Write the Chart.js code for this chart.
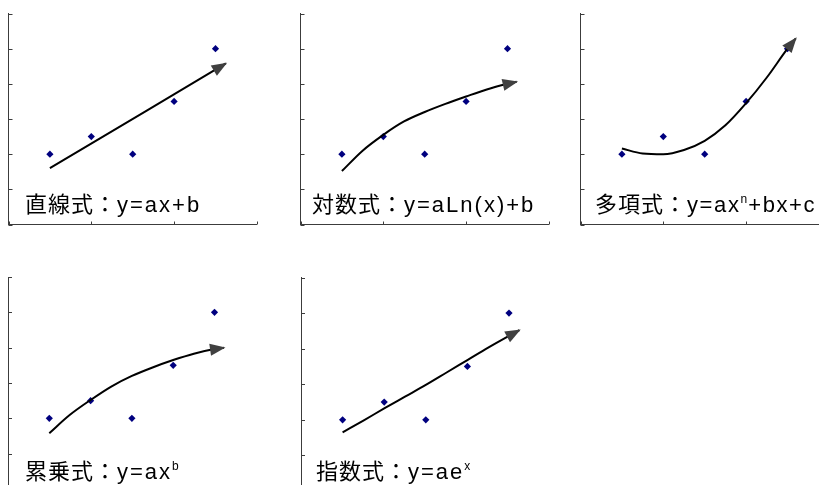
<!DOCTYPE html>
<html>
<head>
<meta charset="utf-8">
<script src="https://cdn.jsdelivr.net/npm/chart.js@4.4.1/dist/chart.umd.min.js"></script>
<style>
html,body{margin:0;padding:0;width:819px;height:485px;overflow:hidden;background:#fff;}
canvas{position:absolute;}
.lbl{position:absolute;font-family:"Liberation Sans",Arial,"Noto Sans CJK JP",sans-serif;font-size:22px;line-height:22px;color:#000;white-space:nowrap;letter-spacing:1px;}
.lbl .lat{letter-spacing:2px;}
.lbl .lat.tight{letter-spacing:1.6px;}
.lbl sup{font-size:12px;line-height:0;vertical-align:top;position:relative;top:5px;letter-spacing:1px;}
</style>
</head>
<body>
<div id="wrap"></div>
<script>
// ---- data ----
const xValues = [1, 2, 3, 4, 5];
const yValues = [2, 2.5, 2, 3.5, 5];
const xTickValues = [0, 2, 4, 6];
const yTickValues = [0, 1, 2, 3, 4, 5, 6];

const linearTrendX = [1, 5.25];
const linearTrendY = [1.6, 4.58];

const logTrendX = [1, 1.5, 2, 2.5, 3, 3.5, 4, 4.5, 5, 5.22];
const logTrendY = [1.52, 2.1, 2.55, 2.93, 3.2, 3.43, 3.64, 3.84, 4.0, 4.06];

const polyTrendX = [1, 1.5, 2, 2.5, 3, 3.5, 4, 4.5, 5, 5.2];
const polyTrendY = [2.16, 2.02, 2.0, 2.12, 2.38, 2.82, 3.45, 4.18, 5.0, 5.29];

const powerTrendX = [1, 1.5, 2, 2.5, 3, 3.5, 4, 4.5, 5, 5.23];
const powerTrendY = [1.58, 2.1, 2.52, 2.9, 3.2, 3.44, 3.65, 3.83, 3.96, 4.0];

const expTrendX = [1, 1.5, 2, 2.5, 3, 3.5, 4, 4.5, 5, 5.25];
const expTrendY = [1.65, 1.98, 2.32, 2.65, 2.98, 3.33, 3.68, 4.03, 4.36, 4.52];

const labelCJK = ["直線式：", "対数式：", "多項式：", "累乗式：", "指数式："];
const labelLatin = ["y=ax+b", "y=aLn(x)+b", "y=ax<sup>n</sup>+bx+c", "y=ax<sup>b</sup>", "y=ae<sup>x</sup>"];

// ---- layout (plot-area boxes in page pixels) ----
const panels = [
  {area:{l:8.5, t:13.5, w:248.4, h:211}, trendX:linearTrendX, trendY:linearTrendY, lx:25, ly:194, tight:false},
  {area:{l:300.5, t:13.5, w:248.4, h:211}, trendX:logTrendX, trendY:logTrendY, lx:312, ly:194, tight:false},
  {area:{l:580.5, t:13.5, w:248.4, h:211}, trendX:polyTrendX, trendY:polyTrendY, lx:595, ly:194, tight:true},
  {area:{l:8, t:277, w:247.8, h:212}, trendX:powerTrendX, trendY:powerTrendY, lx:25, ly:461, tight:false},
  {area:{l:301, t:277.5, w:249.6, h:213.5}, trendX:expTrendX, trendY:expTrendY, lx:316, ly:461, tight:false}
];

const AXIS = '#3c3c3c';
const PAD = {left:10, top:12, right:14, bottom:12};

const innerTicks = {
  id:'innerTicks',
  afterDraw(chart){
    const {ctx, chartArea:a, scales:{x, y}} = chart;
    ctx.save();
    ctx.strokeStyle = AXIS; ctx.lineWidth = 1;
    ctx.beginPath();
    x.ticks.forEach(t => {
      const px = Math.round(x.getPixelForValue(t.value)) + 0.5;
      ctx.moveTo(px, a.bottom); ctx.lineTo(px, a.bottom - 3);
    });
    y.ticks.forEach(t => {
      const py = Math.round(y.getPixelForValue(t.value)) + 0.5;
      ctx.moveTo(a.left, py); ctx.lineTo(a.left + 4, py);
    });
    ctx.stroke();
    ctx.restore();
  }
};

const arrowHead = {
  id:'arrowHead',
  afterDatasetsDraw(chart){
    const ctx = chart.ctx;
    chart.data.datasets.forEach((ds, i) => {
      if (!ds.arrow) return;
      const pts = chart.getDatasetMeta(i).data;
      const p1 = pts[pts.length - 1], p0 = pts[pts.length - 2];
      let ang = Math.atan2(p1.y - p0.y, p1.x - p0.x);
      if (p1.cp1x !== undefined && (p1.cp1x !== p1.x || p1.cp1y !== p1.y)) {
        ang = Math.atan2(p1.y - p1.cp1y, p1.x - p1.cp1x);
      }
      const L = 14, W = 6;
      const bx = p1.x - L * Math.cos(ang), by = p1.y - L * Math.sin(ang);
      ctx.save();
      ctx.fillStyle = '#404040';
      ctx.beginPath();
      ctx.moveTo(p1.x + 1.5 * Math.cos(ang), p1.y + 1.5 * Math.sin(ang));
      ctx.lineTo(bx - W * Math.sin(ang), by + W * Math.cos(ang));
      ctx.lineTo(bx + W * Math.sin(ang), by - W * Math.cos(ang));
      ctx.closePath();
      ctx.fill();
      ctx.restore();
    });
  }
};

const wrap = document.getElementById('wrap');
panels.forEach((p, idx) => {
  const cv = document.createElement('canvas');
  const left = Math.floor(p.area.l) - PAD.left;
  const top = Math.floor(p.area.t) - PAD.top;
  const padL = p.area.l - left, padT = p.area.t - top;
  const W = Math.ceil(padL + p.area.w + PAD.right);
  const H = Math.ceil(padT + p.area.h + PAD.bottom);
  cv.width = W; cv.height = H;
  cv.style.left = left + 'px'; cv.style.top = top + 'px';
  cv.style.width = W + 'px'; cv.style.height = H + 'px';
  wrap.appendChild(cv);

  new Chart(cv, {
    type:'scatter',
    data:{
      datasets:[
        {
          data: xValues.map((x, i) => ({x, y:yValues[i]})),
          pointStyle:'rectRot', pointRadius:3.6, pointHoverRadius:3.6,
          backgroundColor:'#00007f', borderColor:'#00007f', borderWidth:0,
          order:2
        },
        {
          data: p.trendX.map((x, i) => ({x, y:p.trendY[i]})),
          showLine:true, pointRadius:0, borderColor:'#000', borderWidth:2,
          cubicInterpolationMode:'monotone', fill:false, clip:false,
          arrow:true, order:1
        }
      ]
    },
    options:{
      responsive:false, animation:false, events:[],
      devicePixelRatio:1,
      layout:{autoPadding:false, padding:{left:padL, top:padT, right:W - padL - p.area.w, bottom:H - padT - p.area.h}},
      plugins:{legend:{display:false}, tooltip:{enabled:false}, title:{display:false}},
      scales:{
        x:{type:'linear', min:0, max:6,
           afterBuildTicks: s => { s.ticks = xTickValues.map(v => ({value:v})); },
           ticks:{display:false}, grid:{display:false, drawTicks:false},
           border:{display:true, color:AXIS, width:1}},
        y:{type:'linear', min:0, max:6,
           afterBuildTicks: s => { s.ticks = yTickValues.map(v => ({value:v})); },
           ticks:{display:false}, grid:{display:false, drawTicks:false},
           border:{display:true, color:AXIS, width:1}}
      }
    },
    plugins:[innerTicks, arrowHead]
  });

  const lbl = document.createElement('div');
  lbl.className = 'lbl';
  lbl.style.left = p.lx + 'px'; lbl.style.top = p.ly + 'px';
  lbl.innerHTML = labelCJK[idx] + '<span class="lat' + (p.tight ? ' tight' : '') + '">' + labelLatin[idx] + '</span>';
  document.body.appendChild(lbl);
});
</script>
</body>
</html>
